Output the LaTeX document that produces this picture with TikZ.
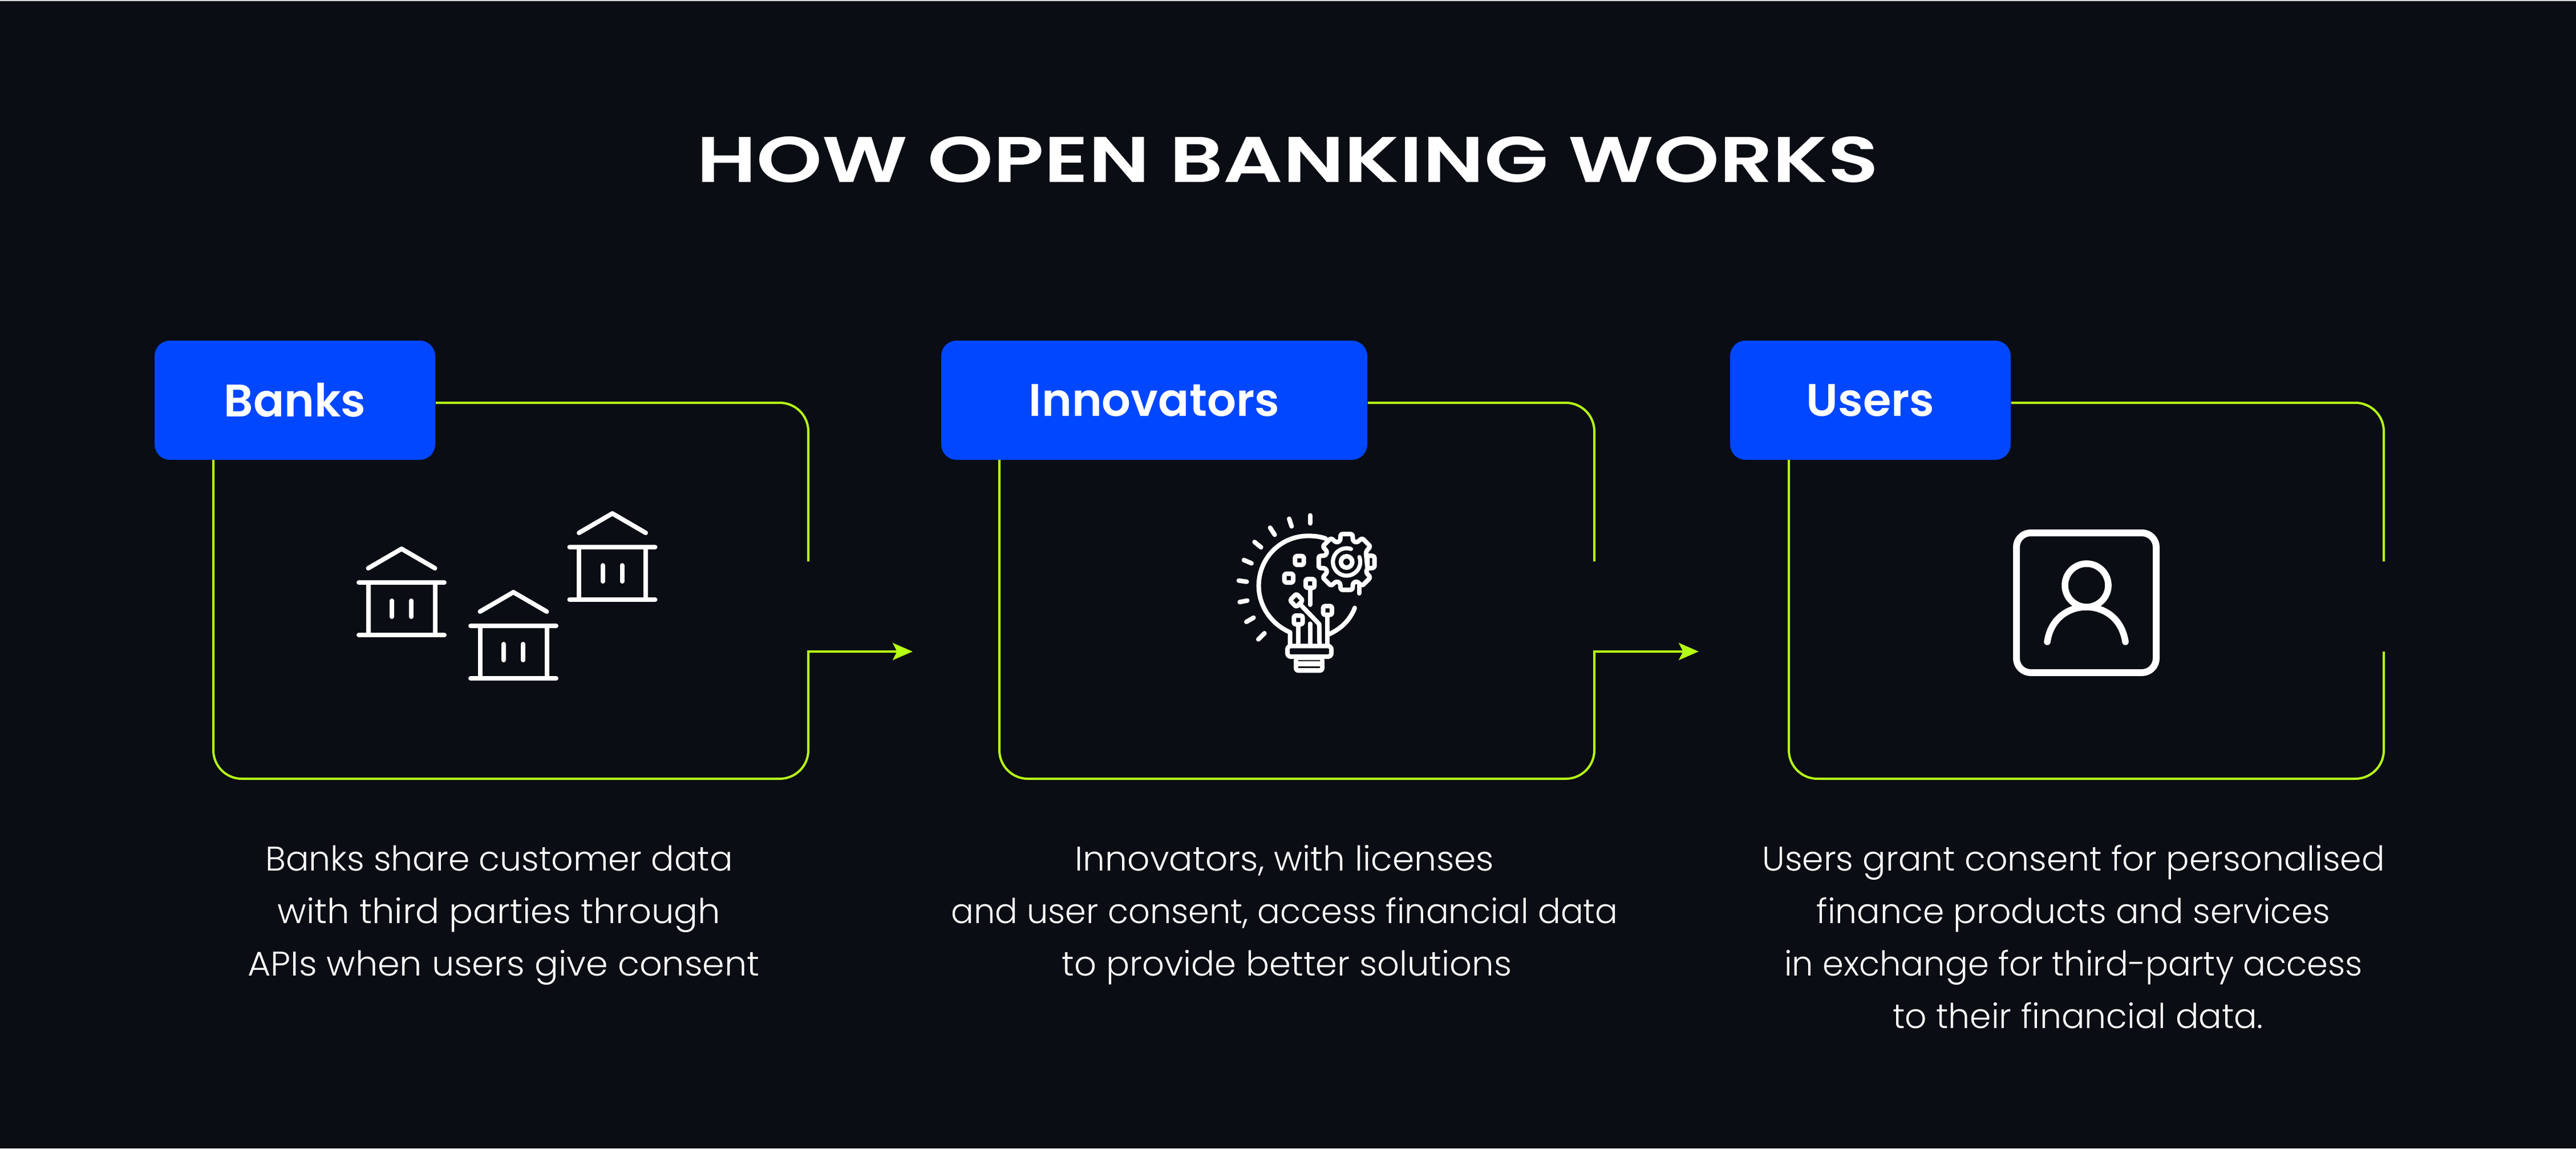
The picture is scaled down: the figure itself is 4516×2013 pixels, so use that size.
\documentclass[tikz,border=0pt]{standalone}
\usepackage{fontspec}
\usepackage{graphicx}
\usetikzlibrary{arrows.meta,calc}
\setmainfont{Poppins}
\newfontfamily\titlef{Poppins SemiBold}
\newfontfamily\bodyf{Poppins Light}
\newfontfamily\labelf{Poppins SemiBold}
\definecolor{bgdark}{HTML}{0A0D14}
\definecolor{boxblue}{HTML}{0047FF}
\definecolor{lime}{HTML}{B5FF14}
\tikzset{
  labelbox/.style={fill=boxblue,draw=none,rounded corners=6.75pt,inner sep=0pt,minimum height=52.25pt,text=white,font=\labelf\fontsize{20pt}{24pt}\selectfont},
  frameline/.style={draw=lime,line width=1pt},
  icon/.style={draw=white,line width=2pt,line cap=round,line join=round},
  para/.style={text=white,align=center,anchor=base,inner sep=0pt,font=\bodyf\fontsize{15pt}{23pt}\selectfont},
  tip/.style={-{Stealth[length=8.75pt,width=7.5pt,inset=1.9pt]}}
}
\newcommand{\bankicon}[2]{%
  \begin{scope}[shift={(#1,#2)}]
    \draw[icon] (-58.5,34) -- (0,0) -- (58.5,34);
    \draw[icon] (-75,59) -- (75,59);
    \draw[icon] (-75,151) -- (75,151);
    \draw[icon] (-58.5,59) -- (-58.5,151);
    \draw[icon] (58.5,59) -- (58.5,151);
    \draw[icon] (-17,91) -- (-17,119);
    \draw[icon] (17,91) -- (17,119);
  \end{scope}}
\newcommand{\chipicon}[2]{\draw[icon,rounded corners=0.8pt] (#1-23,#2-23) rectangle (#1+23,#2+23);}
\begin{document}
\begin{tikzpicture}[x=0.25pt,y=-0.25pt]
\useasboundingbox (0,0) rectangle (4516,2013);
\fill[bgdark] (0,0) rectangle (4516,2013);
\fill[black!15] (0,0) rectangle (4516,2);

\node[text=white,inner sep=0pt] (title) at (2258,279.5)
  {\resizebox{518pt}{\height}{\titlef\fontsize{28.3pt}{34pt}\selectfont HOW OPEN BANKING WORKS}};

% label boxes
\node[labelbox,minimum width=123pt] (banks) at (517,701.5) {\raisebox{-0.9pt}{Banks}};
\node[labelbox,minimum width=186.75pt] (innov) at (2023.5,701.5) {\raisebox{-0.9pt}{Innovators}};
\node[labelbox,minimum width=123pt] (users) at (3279,701.5) {\raisebox{-0.9pt}{Users}};

% frames
\coordinate (gapA) at (1417,984);
\coordinate (cornerA) at (1417,1142);
\coordinate (botA1) at (374,1365);
\coordinate (tipA) at (1600,1142);
\draw[frameline,rounded corners=12.5pt] (banks.east |- 0,706) -- (1417,706) -- (gapA);
\draw[frameline,tip,rounded corners=12.5pt] (374,806) -- (botA1) -- (1417,1365) [sharp corners] -- (cornerA) -- (tipA);

\coordinate (gapB) at (2795,984);
\coordinate (cornerB) at (2795,1142);
\coordinate (botB1) at (1752,1365);
\coordinate (tipB) at (2978,1142);
\draw[frameline,rounded corners=12.5pt] (innov.east |- 0,706) -- (2795,706) -- (gapB);
\draw[frameline,tip,rounded corners=12.5pt] (1752,806) -- (botB1) -- (2795,1365) [sharp corners] -- (cornerB) -- (tipB);

\coordinate (gapC) at (4179,984);
\coordinate (cornerC) at (4179,1142);
\coordinate (botC1) at (3136,1365);
\draw[frameline,rounded corners=12.5pt] (users.east |- 0,706) -- (4179,706) -- (gapC);
\draw[frameline,rounded corners=12.5pt] (3136,806) -- (botC1) -- (4179,1365) -- (cornerC);

% bank icons
\bankicon{704}{962}
\bankicon{900}{1038}
\bankicon{1073.5}{900}

% bulb icon
\begin{scope}[shift={(2120,870)},x=0.08333pt,y=-0.08333pt]
  \foreach \a/\b/\c/\d in {531/100/531/142,420/118/433/158,320/165/344/202,238/240/272/268,182/335/222/352,155/443/197/449,160/556/200/548,195/660/233/638,258/752/290/720}
    \draw[icon] (\a,\b) -- (\c,\d);
  \draw[icon] (612,222) .. controls (585,212) and (555,208) .. (520,208)
     .. controls (375,208) and (260,325) .. (260,470)
     .. controls (260,580) and (330,675) .. (425,715) -- (425,780);
  \draw[icon] (765,587) .. controls (740,650) and (695,695) .. (630,725);
  % gear
  \begin{scope}[shift={(722,345)}]
    \draw[icon,rounded corners=0.8pt] (17:115)
      \foreach \t in {0,45,...,315} { -- ({\t-17}:115) -- ({\t-12}:150) -- ({\t+12}:150) -- ({\t+17}:115) } -- cycle;
    \draw[icon,line width=1.8pt] plot[smooth,samples=40,domain=-381:-71] ({72*cos(\x)},{72*sin(\x)});
    \draw[icon] (0,0) circle [radius=30];
  \end{scope}
  \draw[icon] (788,470) -- (788,510);
  % chips
  \chipicon{474}{337}
  \chipicon{418}{430}
  \chipicon{530}{458}
  \chipicon{622}{600}
  \chipicon{468}{650}
  \draw[icon] (530,481) -- (530,570);
  \draw[icon] (622,623) -- (622,780);
  \draw[icon] (468,673) -- (468,780);
  \draw[icon] (530,670) -- (530,780);
  \draw[icon,rounded corners=0.8pt] (458,512) -- (492,547) -- (458,582) -- (424,547) -- cycle;
  \draw[icon] (482,572) -- (578,672) -- (580,780);
  % lamp base
  \fill[white,rounded corners=2pt] (444,840) rectangle (606,928);
  \fill[bgdark] (468,861) rectangle (582,867);
  \fill[bgdark] (468,894) rectangle (582,903);
  \draw[icon,fill=bgdark,rounded corners=1.5pt] (411,787) rectangle (642,843);
\end{scope}

% user icon
\draw[icon,line width=3pt,rounded corners=6.25pt] (3535,934) rectangle (3780,1179);
\draw[icon,line width=2.9pt] (3658,1026) circle [radius=38];
\draw[icon,line width=2.9pt] (3589,1125) .. controls (3595,1085) and (3625,1064) .. (3657.5,1064)
  .. controls (3690,1064) and (3720,1085) .. (3726,1125);

% captions
\node[para] (capA) at (875,1710) {Banks share customer data\\\scalebox{1.038}[1]{with third parties through}\\\hspace*{4pt}\scalebox{1.033}[1]{APIs when users give consent}};
\node[para] (capB) at (2252,1710) {\scalebox{1.024}[1]{Innovators, with licenses}\\\scalebox{0.983}[1]{and user consent, access financial data}\\\hspace*{2pt}\scalebox{1.015}[1]{to provide better solutions}};
\node[para] (capC) at (3635,1802) {Users grant consent for personalised\\finance products and services\\\scalebox{0.985}[1]{in exchange for third-party access}\\\hspace*{4pt}to their financial data.};
\end{tikzpicture}
\end{document}
